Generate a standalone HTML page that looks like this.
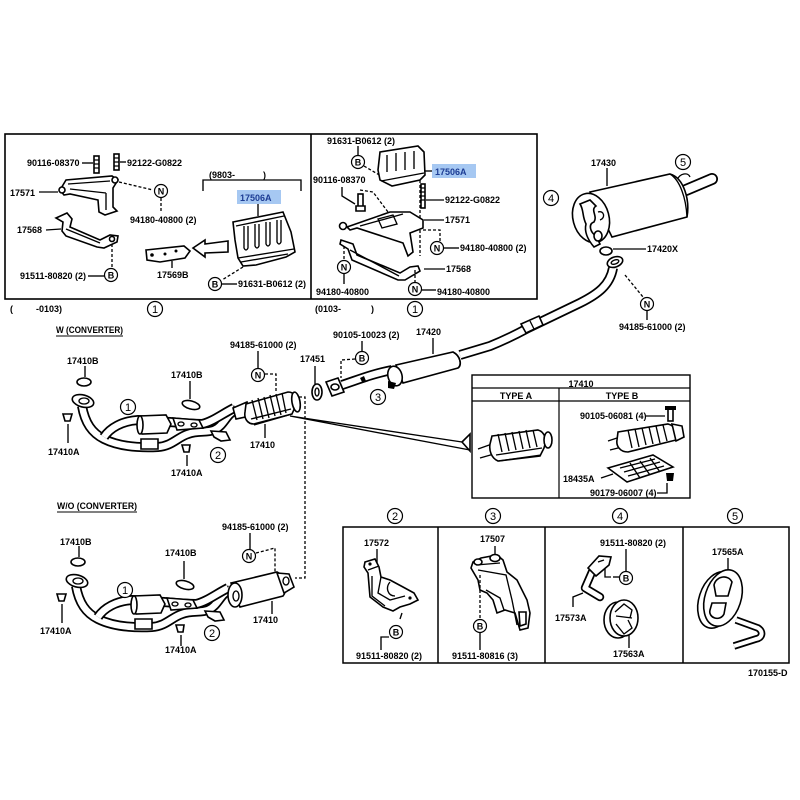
<!DOCTYPE html>
<html><head><meta charset="utf-8"><style>
html,body{margin:0;padding:0;background:#fff;}
svg{display:block}
text{font-family:"Liberation Sans",sans-serif;font-size:9px;font-weight:bold;fill:#000}
.o{fill:none;stroke:#000;stroke-width:1.35}
.d{fill:none;stroke:#000;stroke-width:1.3;stroke-dasharray:3 2}
.w{fill:#fff;stroke:#000;stroke-width:1.6}
.tb{fill:none;stroke:#000;stroke-width:10;stroke-linejoin:round;stroke-linecap:butt}
.tw{fill:none;stroke:#fff;stroke-width:6.5;stroke-linejoin:round;stroke-linecap:butt}
.c{fill:#fff;stroke:#000;stroke-width:1.2}
.cn{font-size:11px;font-weight:normal}
.hl{fill:#a6c8f2}
.ht{fill:#1c3c94}
</style></head><body>
<svg width="800" height="800" viewBox="0 0 800 800" xmlns="http://www.w3.org/2000/svg">
<rect width="800" height="800" fill="#fff"/>

<!-- ============ TOP BOXES ============ -->
<rect x="5" y="134" width="532" height="165" fill="none" stroke="#000" stroke-width="1.6"/>
<line x1="311" y1="134" x2="311" y2="299" stroke="#000" stroke-width="1.6"/>

<!-- top-left box parts -->
<rect x="94" y="156" width="5" height="17" class="w"/>
<path d="M94,160 h5 M94,164 h5 M94,168 h5" class="o"/>
<rect x="114" y="154" width="5" height="16" class="w"/>
<path d="M114,158 h5 M114,162 h5 M114,166 h5" class="o"/>
<line x1="82" y1="163" x2="93" y2="163" class="o"/>
<line x1="120" y1="162" x2="126" y2="162" class="o"/>
<text x="27" y="166">90116-08370</text>
<text x="127" y="166">92122-G0822</text>

<path d="M60,190 L66,180 L112,176 L118,180 L113,188 L113,207 L117,211 L105,215 L99,212 L98,200 L70,194 L64,195 Z" class="w"/>
<path d="M68,184 L110,181 M70,189 L106,193 M106,193 L106,210" class="o"/>
<circle cx="62" cy="190" r="3" class="w"/>
<circle cx="115" cy="180" r="3" class="w"/>
<line x1="39" y1="192" x2="58" y2="192" class="o"/>
<text x="10" y="196">17571</text>
<line x1="119" y1="182" x2="153" y2="190" class="d"/>
<circle cx="161" cy="191" r="6.5" class="c"/><text x="161" y="194.5" text-anchor="middle">N</text>
<line x1="161" y1="198" x2="161" y2="213" class="d"/>
<text x="130" y="223">94180-40800 (2)</text>

<path d="M56,218 L67,213 L72,219 L70,227 L100,240 L110,235 L118,236 L117,242 L104,248 L97,247 L66,236 L62,231 L63,222 Z" class="w"/>
<path d="M66,229 L100,243" class="o"/>
<circle cx="112" cy="239" r="2.5" class="w"/>
<line x1="46" y1="230" x2="61" y2="229" class="o"/>
<text x="17" y="233">17568</text>
<line x1="112" y1="244" x2="112" y2="267" class="d"/>
<circle cx="111" cy="275" r="6.5" class="c"/><text x="111" y="278.5" text-anchor="middle">B</text>
<line x1="88" y1="276" x2="104" y2="276" class="o"/>
<text x="20" y="279">91511-80820 (2)</text>

<path d="M146,250 L184,246 L190,251 L185,258 L160,262 L147,260 Z" class="w"/>
<circle cx="152" cy="255" r="1.8" fill="#000"/><circle cx="165" cy="254" r="1.5" fill="#000"/><circle cx="176" cy="251" r="1.5" fill="#000"/>
<line x1="172" y1="261" x2="172" y2="268" class="o"/>
<text x="157" y="278">17569B</text>
<path d="M193,248 L205,240 L205,244 L228,241 L228,252 L205,253 L205,257 Z" class="w"/>

<polyline points="203,191 203,180 301,180 301,191" class="o"/>
<text x="209" y="178">(9803-</text><text x="263" y="178">)</text>
<rect x="237" y="190" width="44" height="14" class="hl"/>
<text x="240" y="201" class="ht">17506A</text>
<line x1="258" y1="204" x2="258" y2="216" class="o"/>
<path d="M233,222 L283,212 L291,232 L295,252 L286,257 L256,265 L243,266 L238,258 L235,240 Z" class="w"/>
<path d="M238,258 L294,249 M241,262 L288,254 M236,226 L284,216" class="o"/>
<path d="M244,226 L244,248 Q246,252 248,248 L248,226 M255,224 L255,246 Q257,250 259,246 L259,224 M266,222 L266,244 Q268,248 270,244 L270,222 M277,220 L277,242 Q279,246 281,242 L281,220" class="o"/>
<line x1="243" y1="267" x2="222" y2="280" class="d"/>
<circle cx="215" cy="284" r="6.5" class="c"/><text x="215" y="287.5" text-anchor="middle">B</text>
<line x1="222" y1="284" x2="237" y2="284" class="o"/>
<text x="238" y="287">91631-B0612 (2)</text>
<text x="10" y="312">(</text><text x="36" y="312">-0103)</text>
<circle cx="155" cy="309" r="7.5" class="c"/><text x="155" y="313" text-anchor="middle" class="cn">1</text>

<!-- top-right box parts -->
<text x="327" y="144">91631-B0612 (2)</text>
<line x1="358" y1="146" x2="358" y2="155" class="o"/>
<circle cx="358" cy="162" r="6.5" class="c"/><text x="358" y="165.5" text-anchor="middle">B</text>
<line x1="364" y1="166" x2="381" y2="176" class="d"/>
<path d="M380,152 L418,146 L424,152 L425,175 L420,180 L392,186 L380,180 L378,170 Z" class="w"/>
<path d="M381,181 L424,173 M387,155 L387,172 M396,153 L396,171 M405,152 L405,170 M414,151 L414,169" class="o"/>
<rect x="432" y="164" width="44" height="14" class="hl"/>
<text x="435" y="175" class="ht">17506A</text>
<line x1="432" y1="171" x2="425" y2="171" class="o"/>
<text x="313" y="183">90116-08370</text>
<polyline points="342,187 342,196 355,204" class="o"/>
<rect x="358" y="194" width="5" height="15" class="w"/>
<path d="M356,206 h9 v5 h-9 Z" class="w"/>
<polyline points="360,190 373,192 388,212" class="d"/>
<line x1="420" y1="180" x2="420" y2="256" class="d"/>
<rect x="421" y="184" width="4" height="24" class="w"/>
<path d="M421,188 h4 M421,192 h4 M421,196 h4 M421,200 h4" class="o"/>
<line x1="426" y1="200" x2="444" y2="200" class="o"/>
<text x="445" y="203">92122-G0822</text>
<path d="M347,227 L390,212 L410,212 L423,220 L423,228 L410,233 L413,252 L408,256 L403,243 L357,228 L350,230 Z" class="w"/>
<path d="M378,219 L393,215 L397,224 L382,228 Z M360,226 L403,214" class="o"/>
<circle cx="343" cy="226" r="3.5" class="w"/>
<line x1="424" y1="220" x2="444" y2="220" class="o"/>
<text x="445" y="223">17571</text>
<polyline points="423,230 440,230 440,241" class="d"/>
<circle cx="437" cy="248" r="6.5" class="c"/><text x="437" y="251.5" text-anchor="middle">N</text>
<line x1="444" y1="248" x2="459" y2="248" class="o"/>
<text x="460" y="251">94180-40800 (2)</text>
<path d="M341,240 L353,244 L357,255 L400,273 L410,267 L418,266 L420,271 L405,280 L398,280 L352,260 L348,249 L340,244 Z" class="w"/>
<path d="M350,250 L399,276" class="o"/>
<line x1="424" y1="269" x2="445" y2="269" class="o"/>
<text x="446" y="272">17568</text>
<line x1="344" y1="246" x2="344" y2="260" class="d"/>
<circle cx="344" cy="267" r="6.5" class="c"/><text x="344" y="270.5" text-anchor="middle">N</text>
<line x1="344" y1="274" x2="344" y2="284" class="o"/>
<text x="316" y="295">94180-40800</text>
<line x1="415" y1="270" x2="415" y2="282" class="d"/>
<circle cx="415" cy="289" r="6.5" class="c"/><text x="415" y="292.5" text-anchor="middle">N</text>
<line x1="422" y1="290" x2="436" y2="290" class="o"/>
<text x="437" y="295">94180-40800</text>
<text x="315" y="312">(0103-</text><text x="371" y="312">)</text>
<circle cx="415" cy="309" r="7.5" class="c"/><text x="415" y="313" text-anchor="middle" class="cn">1</text>

<!-- ============ MUFFLER & MAIN PIPE ============ -->
<path d="M613,268 C610,285 598,294 580,303 L528,328 C515,335 500,342 490,346 L460,355" class="tb"/>
<path d="M613,268 C610,285 598,294 580,303 L528,328 C515,335 500,342 490,346 L460,355" class="tw"/>
<path d="M521,324 L539,316 L543,325 L526,333 Z" class="w"/>
<path d="M530,321 L534,329" class="o"/>
<ellipse cx="615" cy="262" rx="8" ry="5" transform="rotate(-20 615 262)" class="w" stroke-width="2.2"/>
<ellipse cx="615" cy="262" rx="4" ry="2" transform="rotate(-20 615 262)" class="o"/>
<ellipse cx="606" cy="251" rx="6" ry="4" class="w" stroke-width="2.4"/>
<line x1="613" y1="249" x2="646" y2="249" class="o"/>
<text x="647" y="252">17420X</text>
<path d="M686,190 L712,179" stroke="#000" stroke-width="12" stroke-linecap="round" fill="none"/>
<path d="M686,190 L712,179" stroke="#fff" stroke-width="8.5" stroke-linecap="round" fill="none"/>
<path d="M677,180 C680,173 688,172 690,177" class="o" stroke-width="1.8"/>
<path d="M590,192 L670,174 C684,178 690,200 687,217 L612,237 Z" class="w" stroke-width="1.8"/>
<path d="M670,174 C680,180 686,198 687,217" class="o" stroke-width="2.8"/>
<ellipse cx="591" cy="218" rx="18" ry="25" transform="rotate(-15 591 218)" class="w" stroke-width="2.5"/>
<path d="M580,204 L590,200 L596,206 C590,210 598,216 594,222 C588,224 590,232 596,236 L600,244 L594,247 C588,240 584,232 586,224 C582,216 584,210 580,204 Z" class="w"/>
<path d="M598,212 C604,210 606,218 600,220" class="o"/>
<ellipse cx="598" cy="236" rx="4" ry="5" class="w"/>
<line x1="607" y1="168" x2="607" y2="186" class="o"/>
<text x="591" y="166">17430</text>
<circle cx="683" cy="162" r="7.5" class="c"/><text x="683" y="166" text-anchor="middle" class="cn">5</text>
<circle cx="551" cy="198" r="7.5" class="c"/><text x="551" y="202" text-anchor="middle" class="cn">4</text>
<line x1="625" y1="275" x2="643" y2="297" class="d"/>
<circle cx="647" cy="304" r="6.5" class="c"/><text x="647" y="307.5" text-anchor="middle">N</text>
<line x1="647" y1="311" x2="647" y2="320" class="o"/>
<text x="619" y="330">94185-61000 (2)</text>

<!-- resonator -->
<path d="M342,385 C360,379 372,374 392,370" class="tb"/>
<path d="M342,385 C360,379 372,374 392,370" class="tw"/>
<path d="M360,378 L364,376 L366,381 L362,382 Z" fill="#000"/>
<path d="M326,382 L338,378 L344,392 L332,396 Z" class="w" stroke-width="1.8"/>
<ellipse cx="335" cy="387" rx="4" ry="3" class="w"/>
<path d="M396,365 L453,352 C461,356 462,366 458,368 L403,383 Z" class="w" stroke-width="1.7"/>
<ellipse cx="395" cy="376" rx="7" ry="10" transform="rotate(-15 395 376)" class="w" stroke-width="2.2"/>
<path d="M453,352 C460,356 462,364 458,368" class="o" stroke-width="3"/>
<path d="M388,381 L396,383 L394,389 L388,388 Z" fill="#000"/>
<line x1="433" y1="338" x2="433" y2="354" class="o"/>
<text x="416" y="335">17420</text>
<text x="333" y="338">90105-10023 (2)</text>
<line x1="362" y1="341" x2="362" y2="351" class="o"/>
<circle cx="362" cy="358" r="6.5" class="c"/><text x="362" y="361.5" text-anchor="middle">B</text>
<polyline points="355,359 341,360 341,378" class="d"/>
<circle cx="378" cy="397" r="7.5" class="c"/><text x="378" y="401" text-anchor="middle" class="cn">3</text>
<text x="300" y="362">17451</text>
<line x1="315" y1="366" x2="315" y2="384" class="o"/>
<ellipse cx="317" cy="392" rx="5" ry="8" class="w" stroke-width="2.4"/>
<ellipse cx="317" cy="392" rx="2" ry="4" class="o"/>

<!-- wedge leader to type box -->
<path d="M290,416 L470,450 M290,416 L462,442" class="o"/>
<path d="M462,442 L470,434 L470,451 Z" class="w" stroke-width="1.2"/>

<!-- dashed line between sections -->
<polyline points="299,397 305,397 305,578 295,578" class="d"/>

<!-- ============ W (CONVERTER) ============ -->
<text x="56" y="333" textLength="67" lengthAdjust="spacingAndGlyphs">W (CONVERTER)</text>
<line x1="56" y1="336" x2="123" y2="336" stroke="#000" stroke-width="1"/>

<g id="pipeset">
  <path d="M82,406 C85,423 92,433 104,439 C118,446 138,448 158,447 C172,446 178,437 188,434 C198,430 206,433 214,430 C224,426 226,414 236,410" class="tb"/>
  <path d="M82,406 C85,423 92,433 104,439 C118,446 138,448 158,447 C172,446 178,437 188,434 C198,430 206,433 214,430 C224,426 226,414 236,410" class="tw"/>
  <path d="M104,437 C110,428 122,421 138,420 L170,422 C182,423 190,424 202,424 C212,422 222,414 234,408" class="tb"/>
  <path d="M104,437 C110,428 122,421 138,420 L170,422 C182,423 190,424 202,424 C212,422 222,414 234,408" class="tw"/>
  <path d="M139,416 L166,415 L171,424 L167,433 L142,434 L137,425 Z" class="w"/>
  <ellipse cx="140" cy="425" rx="3" ry="9" class="w"/>
  <path d="M141,439 L158,439 L158,449 L141,449 Z" class="w"/>
  <path d="M173,418 L199,420 L203,428 L177,430 Z" class="w"/>
  <ellipse cx="181" cy="424" rx="3" ry="2" class="o"/><ellipse cx="194" cy="425" rx="3" ry="2" class="o"/>
  <ellipse cx="83" cy="401" rx="11" ry="6" transform="rotate(15 83 401)" class="w" stroke-width="1.7"/>
  <ellipse cx="84" cy="401" rx="5" ry="3" class="o"/>
  <path d="M211,431 L226,432 L230,440 L221,441 L214,437 Z" class="w"/>
  <ellipse cx="84" cy="382" rx="7" ry="4" class="w" stroke-width="2.7"/>
  <line x1="85" y1="366" x2="85" y2="377" class="o"/>
  <path d="M63,414 L72,414 L70,421 L65,421 Z" class="w" stroke-width="2"/>
  <line x1="68" y1="424" x2="68" y2="443" class="o"/>
  <ellipse cx="191" cy="405" rx="9" ry="4" transform="rotate(15 191 405)" class="w" stroke-width="2.4"/>
  <line x1="190" y1="381" x2="190" y2="399" class="o"/>
  <path d="M182,445 L190,445 L189,452 L184,452 Z" class="w" stroke-width="2"/>
  <line x1="187" y1="455" x2="187" y2="466" class="o"/>
</g>

<!-- converter (W) -->
<path d="M233,408 L247,402 L250,416 L236,419 Z" class="w"/>
<path d="M246,404 L288,392 C295,392 298,399 296,405 L292,414 L254,424 C247,424 244,418 245,412 Z" class="w" stroke-width="1.7"/>
<path d="M252,400 L257,420 M258,398 L263,419 M264,397 L269,418 M270,395 L275,416 M276,394 L281,415 M282,393 L286,413" class="o"/>
<path d="M251,419 L291,409 M254,425 L292,414" class="o"/>
<ellipse cx="296" cy="402" rx="4" ry="10" transform="rotate(-10 296 402)" class="w" stroke-width="1.8"/>
<line x1="265" y1="424" x2="265" y2="438" class="o"/>
<text x="250" y="448">17410</text>

<text x="67" y="364">17410B</text>
<text x="230" y="348">94185-61000 (2)</text>
<line x1="258" y1="351" x2="258" y2="368" class="o"/>
<circle cx="258" cy="375" r="6.5" class="c"/><text x="258" y="378.5" text-anchor="middle">N</text>
<polyline points="265,374 276,374 276,392" class="d"/>
<text x="171" y="378">17410B</text>
<circle cx="128" cy="407" r="7.5" class="c"/><text x="128" y="411" text-anchor="middle" class="cn">1</text>
<text x="48" y="455">17410A</text>
<circle cx="218" cy="455" r="7.5" class="c"/><text x="218" y="459" text-anchor="middle" class="cn">2</text>
<text x="171" y="476">17410A</text>

<!-- ============ TYPE BOX ============ -->
<rect x="472" y="375" width="218" height="123" fill="none" stroke="#000" stroke-width="1.4"/>
<line x1="472" y1="388" x2="690" y2="388" stroke="#000" stroke-width="1.2"/>
<line x1="472" y1="401" x2="690" y2="401" stroke="#000" stroke-width="1.2"/>
<line x1="559" y1="388" x2="559" y2="498" stroke="#000" stroke-width="1.2"/>
<text x="581" y="387" text-anchor="middle">17410</text>
<text x="516" y="399" text-anchor="middle">TYPE  A</text>
<text x="622" y="399" text-anchor="middle">TYPE  B</text>
<!-- type A converter -->
<path d="M478,449 L492,444 M480,458 L494,454" class="o"/>
<path d="M492,436 L538,430 C545,432 547,440 544,448 L540,456 L498,461 C491,458 489,450 490,444 Z" class="w" stroke-width="1.5"/>
<path d="M498,434 L502,452 M505,433 L509,451 M512,432 L516,450 M519,431 L523,449 M526,430 L530,448 M533,430 L537,447" class="o"/>
<path d="M496,455 L542,448 M499,461 L541,455" class="o"/>
<ellipse cx="548" cy="440" rx="4" ry="8" class="w"/>
<!-- type B converter -->
<path d="M608,441 L620,437 M610,450 L622,447" class="o"/>
<path d="M618,432 L668,424 C676,426 678,434 676,440 L628,452 C620,452 616,446 617,440 Z" class="w" stroke-width="1.5"/>
<path d="M628,430 L632,448 M635,429 L639,447 M642,428 L646,445 M649,427 L653,444 M656,426 L660,443 M663,425 L667,441" class="o"/>
<path d="M672,424 L682,426 L684,437 L676,441 Z" class="w"/>
<rect x="668" y="409" width="5" height="12" class="w"/>
<path d="M665,406 h11 v4 h-11 Z" fill="#000"/>
<line x1="646" y1="416" x2="665" y2="416" class="o"/>
<text x="580" y="419">90105-06081 (4)</text>
<path d="M608,468 L653,455 L673,467 L627,482 Z" class="w" stroke-width="1.5"/>
<path d="M620,468 L655,459 M624,472 L660,462 M628,476 L664,466 M630,463 L640,478 M640,461 L650,475 M650,458 L660,472" class="o"/>
<line x1="601" y1="478" x2="613" y2="474" class="o"/>
<text x="563" y="482">18435A</text>
<path d="M666,473 L674,473 L673,481 L667,481 Z" fill="#000"/>
<polyline points="657,493 667,493 667,483" class="o"/>
<text x="590" y="496">90179-06007 (4)</text>

<!-- ============ W/O (CONVERTER) ============ -->
<text x="57" y="509" textLength="80" lengthAdjust="spacingAndGlyphs">W/O (CONVERTER)</text>
<line x1="57" y1="512" x2="137" y2="512" stroke="#000" stroke-width="1"/>
<use href="#pipeset" transform="translate(-6,180)"/>
<path d="M231,583 L277,572 C286,576 288,590 283,596 L240,607 Z" class="w" stroke-width="1.7"/>
<ellipse cx="235" cy="595" rx="7" ry="12" class="w" stroke-width="2"/>
<ellipse cx="236" cy="596" rx="3" ry="5" class="o"/>
<path d="M277,573 L289,574 L294,587 L284,593 Z" class="w"/>
<ellipse cx="286" cy="581" rx="3" ry="4" class="o"/>
<line x1="272" y1="601" x2="272" y2="614" class="o"/>
<text x="253" y="623">17410</text>
<text x="222" y="530">94185-61000 (2)</text>
<line x1="250" y1="533" x2="250" y2="549" class="o"/>
<circle cx="249" cy="556" r="6.5" class="c"/><text x="249" y="559.5" text-anchor="middle">N</text>
<polyline points="256,553 275,548 275,572" class="d"/>
<text x="60" y="545">17410B</text>
<text x="165" y="556">17410B</text>
<circle cx="125" cy="590" r="7.5" class="c"/><text x="125" y="594" text-anchor="middle" class="cn">1</text>
<text x="40" y="634">17410A</text>
<circle cx="212" cy="633" r="7.5" class="c"/><text x="212" y="637" text-anchor="middle" class="cn">2</text>
<text x="165" y="653">17410A</text>

<!-- ============ BOTTOM BOXES ============ -->
<rect x="343" y="527" width="446" height="136" fill="none" stroke="#000" stroke-width="1.5"/>
<line x1="438" y1="527" x2="438" y2="663" stroke="#000" stroke-width="1.5"/>
<line x1="545" y1="527" x2="545" y2="663" stroke="#000" stroke-width="1.5"/>
<line x1="683" y1="527" x2="683" y2="663" stroke="#000" stroke-width="1.5"/>
<circle cx="395" cy="516" r="7.5" class="c"/><text x="395" y="520" text-anchor="middle" class="cn">2</text>
<circle cx="493" cy="516" r="7.5" class="c"/><text x="493" y="520" text-anchor="middle" class="cn">3</text>
<circle cx="620" cy="516" r="7.5" class="c"/><text x="620" y="520" text-anchor="middle" class="cn">4</text>
<circle cx="735" cy="516" r="7.5" class="c"/><text x="735" y="520" text-anchor="middle" class="cn">5</text>

<!-- box 2 -->
<text x="364" y="546">17572</text>
<line x1="377" y1="549" x2="377" y2="563" class="o"/>
<path d="M365,562 L375,559 L379,567 L381,577 L390,580 L403,587 L414,593 L418,600 L410,604 L400,607 L393,611 L383,607 L370,597 L368,573 L364,567 Z" class="w" stroke-width="1.6"/>
<path d="M368,570 L379,566 M372,576 L372,596 L385,606 M381,577 L378,593 L390,600 L405,596 M390,582 C385,588 388,596 395,596" class="o"/>
<circle cx="370" cy="564" r="1.6" fill="#000"/><circle cx="410" cy="598" r="1.6" fill="#000"/>
<line x1="402" y1="613" x2="400" y2="619" class="o"/>
<circle cx="396" cy="632" r="6.5" class="c"/><text x="396" y="635.5" text-anchor="middle">B</text>
<polyline points="389,637 381,637 381,650" class="o"/>
<text x="356" y="659">91511-80820 (2)</text>

<!-- box 3 -->
<text x="480" y="542">17507</text>
<line x1="495" y1="546" x2="495" y2="555" class="o"/>
<path d="M473,562 L481,558 L497,555 L503,560 L507,572 L517,580 L527,600 L530,613 L528,628 L520,630 L515,613 L505,610 L497,613 L493,600 L487,593 L480,590 L478,580 L471,568 Z" class="w" stroke-width="1.6"/>
<path d="M476,565 L500,563 M478,570 L506,575 L512,600 L517,625 M486,590 L500,598 L504,610" class="o"/>
<ellipse cx="478" cy="562" rx="4" ry="3" class="w"/>
<ellipse cx="495" cy="558" rx="5" ry="3.5" class="w" stroke-width="2"/>
<path d="M519,612 L526,612 L526,624 L520,626 Z" class="w"/>
<line x1="480" y1="575" x2="480" y2="618" class="d"/>
<circle cx="480" cy="626" r="6.5" class="c"/><text x="480" y="629.5" text-anchor="middle">B</text>
<line x1="480" y1="633" x2="480" y2="650" class="o"/>
<text x="452" y="659">91511-80816 (3)</text>

<!-- box 4 -->
<text x="600" y="546">91511-80820 (2)</text>
<line x1="626" y1="549" x2="626" y2="571" class="o"/>
<circle cx="626" cy="578" r="6.5" class="c"/><text x="626" y="581.5" text-anchor="middle">B</text>
<polyline points="605,569 605,577 611,577" class="o"/><line x1="613" y1="577" x2="619" y2="577" class="o"/>
<path d="M592,572 L585,588 L600,597" stroke="#000" stroke-width="8.5" fill="none" stroke-linejoin="round" stroke-linecap="round"/>
<path d="M592,572 L585,588 L600,597" stroke="#fff" stroke-width="5" fill="none" stroke-linejoin="round" stroke-linecap="round"/>
<path d="M588,568 L599,556 L611,557 L609,565 L596,576 Z" class="w" stroke-width="1.6"/>
<path d="M598,562 L604,560" class="o"/>
<polyline points="573,607 573,597 583,593" class="o"/>
<text x="555" y="621">17573A</text>
<ellipse cx="618" cy="620" rx="14" ry="18" class="w" stroke-width="2.2"/>
<ellipse cx="624" cy="618" rx="14" ry="18" class="w" stroke-width="2.2"/>
<path d="M615,612 L624,604 L632,610 L630,618 M616,624 L624,634 L632,628 L628,620 M616,616 L632,618" class="o"/>
<line x1="629" y1="635" x2="629" y2="648" class="o"/>
<text x="613" y="657">17563A</text>

<!-- box 5 -->
<text x="712" y="555">17565A</text>
<line x1="728" y1="558" x2="728" y2="571" class="o"/>
<ellipse cx="717" cy="600" rx="18" ry="29" transform="rotate(18 717 600)" class="w" stroke-width="2.2"/>
<ellipse cx="723" cy="598" rx="18" ry="29" transform="rotate(18 723 598)" class="w" stroke-width="2.2"/>
<path d="M714,585 C716,576 728,574 732,582 L728,596 L716,596 Z M712,603 L726,603 L724,614 C720,622 708,618 710,610 Z" class="w"/>
<path d="M736,620 L758,628 C764,632 762,638 756,639 L734,646" stroke="#000" stroke-width="7.5" fill="none" stroke-linejoin="round"/>
<path d="M736,620 L758,628 C764,632 762,638 756,639 L734,646" stroke="#fff" stroke-width="4" fill="none" stroke-linejoin="round"/>
<text x="748" y="676">170155-D</text>
</svg>
</body></html>
